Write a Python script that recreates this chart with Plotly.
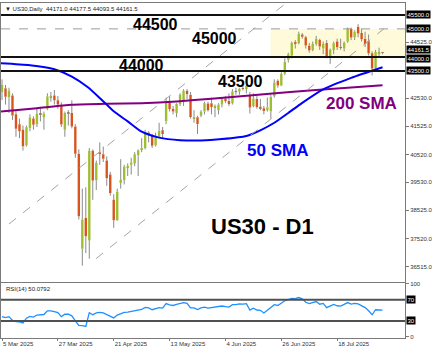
import pandas as pd
import plotly.graph_objects as go
from plotly.subplots import make_subplots

# Daily sessions 5 Mar - 6 Aug 2025 (no bar on Good Friday)
dates = pd.bdate_range("2025-03-05", "2025-08-06").drop(pd.Timestamp("2025-04-18"))

open_ = [
    42750, 42880, 42560, 42620, 41950, 41600, 41400, 40850, 41450, 41800, 41600, 42000, 41850,
    42150, 42560, 42620, 42450, 42280, 41400,
    42000, 42000, 41520, 40545, 37150, 38250, 37450, 40650, 39600, 40600, 40525, 40300, 39800,
    38900, 38170, 39500, 39600, 40050, 40150, 40200, 40500,
    40700, 40750, 41300, 41200, 40850, 41150, 41380, 41700, 42400, 42140, 42000, 42320, 42400,
    42790, 42650, 41800, 41850, 41900, 42050, 42340, 42350, 42200,
    42100, 42300, 42520, 42430, 42350, 42780, 42770, 42870, 42850, 42650, 42250, 42500, 42220,
    42170, 42100, 42050, 42600, 43150, 42980, 43400, 43900,
    44050, 44500, 44500, 44800, 44700, 44400, 44250, 44450, 44600, 44300, 44500, 44030, 44250,
    44550, 44350, 44300, 44550, 45000, 44700, 45080, 44850, 44650, 44560,
    44130, 43600, 44110, 44171.0,
]
high = [
    43200, 43000, 42900, 42700, 42100, 41800, 41550, 41550, 41950, 41880, 42150, 42200, 42050,
    42700, 42750, 42820, 42600, 42380, 42050,
    42100, 42450, 41600, 40700, 39300, 39350, 40750, 40700, 40300, 40950, 40800, 40450, 39900,
    39100, 39300, 40350, 40150, 40200, 40400, 40600, 40700,
    41100, 41400, 41350, 41250, 41300, 41650, 41500, 42550, 42600, 42250, 42350, 42700, 42850,
    42850, 42750, 42100, 41900, 42100, 42400, 42400, 42550, 42300,
    42350, 42550, 42600, 42700, 42850, 42900, 42900, 43100, 43000, 42750, 42700, 42600, 42500,
    42250, 42550, 42650, 43200, 43200, 43450, 43950, 44150,
    44550, 44600, 44900, 44850, 44750, 44500, 44550, 44750, 44650, 44550, 44600, 44300, 44550,
    44650, 44650, 44550, 45050, 45050, 44950, 45170, 45000, 44900, 44800,
    44200, 44250, 44330, 44177.5,
]
low = [
    42460, 42300, 42000, 41750, 41150, 41100, 40660, 40800, 41350, 41400, 41500, 41700, 41400,
    42100, 42400, 42300, 42150, 41500, 41150,
    41550, 41450, 40400, 38200, 36550, 37000, 36800, 38900, 39250, 40150, 40250, 39400, 39050,
    37900, 38150, 39300, 39450, 39750, 39800, 40100, 39750,
    40600, 40700, 40950, 40750, 40800, 41100, 41100, 41600, 42050, 41950, 41850, 42250, 42250,
    42500, 41800, 41650, 41250, 41850, 41950, 42050, 41950, 41850,
    41950, 42200, 42350, 42250, 42300, 42650, 42650, 42800, 42700, 41980, 42200, 42150, 42100,
    41950, 42050, 41800, 42550, 42900, 42950, 43350, 43800,
    43950, 44300, 44450, 44650, 44300, 44150, 44200, 44400, 44250, 44100, 43950, 43750, 44100,
    44250, 44250, 44200, 44500, 44600, 44600, 44700, 44550, 44350, 44050,
    43340, 43550, 44000, 44093.5,
]
close = [
    43006, 42579, 42801, 41911, 41433, 41350, 40813, 41488, 41841, 41581, 41964, 41953, 41985,
    42583, 42587, 42455, 42300, 41584, 42002,
    41989, 41520, 40545, 38315, 38200, 37600, 40650, 39594, 40213, 40525, 40369, 39669, 39142,
    38170, 39187, 39607, 40093, 40114, 40228, 40528, 40669,
    40752, 41317, 41219, 40829, 41114, 41368, 41249, 42410, 42140, 42051, 42323, 42655, 42792,
    42677, 41860, 41859, 41603, 42050, 42343, 42098, 42216, 42270,
    42305, 42520, 42427, 42319, 42763, 42762, 42867, 42865, 42968, 42198, 42515, 42215, 42172,
    42100, 42207, 42582, 43089, 42982, 43386, 43819, 44095,
    44495, 44484, 44828, 44720, 44406, 44241, 44458, 44650, 44371, 44460, 44023, 44254, 44484,
    44342, 44323, 44502, 45010, 44694, 44902, 44838, 44633, 44461, 44131,
    43589, 44174, 44171, 44161.5,
]

rsi14 = [
    38, 36, 38, 31, 28.5, 28, 26, 35, 38.5, 37, 41, 41, 42, 49, 49, 47.5, 45.5, 38, 42.5,
    42.5, 39.5, 30, 21.5, 21, 19.5, 45.5, 41.5, 45, 46, 45, 41.5, 39.5, 35.5, 41, 43, 46, 46.5,
    47.5, 49.5, 50.5,
    51.5, 55.5, 54.5, 51, 53, 55, 54, 62.5, 60, 59, 61, 63.5, 64.5, 63, 54.5, 54.5, 51.5, 54.5,
    56, 54, 55, 55.5,
    56, 58, 57, 56, 60.5, 60.5, 62, 61.5, 62.5, 50.5, 54, 50.5, 50, 45, 50, 55, 60.5, 59, 64,
    68, 70,
    72.5, 72, 74, 71.5, 65, 62.5, 65, 66.5, 61.5, 63, 55, 58.5, 61, 58.5, 58, 61, 64.5, 61.5,
    63, 62, 58, 55, 49,
    41.5, 51, 50.5, 50.0792,
]

# Moving averages: (bar position, price)
sma50_pos = [-0.3, 8, 15, 20, 24.6, 28.3, 32, 36, 40, 45, 51, 57, 63, 70, 74, 78, 82, 86, 92, 100, 109]
sma50_val = [43770, 43700, 43560, 43300, 42920, 42500, 42060, 41700, 41330, 41120, 41030, 41020,
             41070, 41180, 41380, 41650, 42000, 42360, 42840, 43250, 43630]
sma200_pos = [-0.3, 10, 20, 30, 40, 50, 60, 75, 90, 109]
sma200_val = [42050, 42170, 42290, 42330, 42350, 42410, 42510, 42670, 42820, 42990]

price_ticks = [44525, 42530, 41525, 40520, 39530, 38525, 37520, 36515]
solid_levels = [45500, 44000, 43500]
dashed_level = 45000
boxed_prices = [45500.0, 45000.0, 44161.5, 44000.0, 43500.0]
rsi_levels = [70, 30]
date_tick_pos = [0, 16, 32, 48, 64, 80, 96]

# Rising channel drawn as two parallel dashed trend lines: (bar position, price) pairs
channel_lines = [((2.0, 38037), (81.4, 45924)), ((26.9, 36799), (109.4, 45005))]
# Highlighted range between 44000 and 45000 from the late-June breakout onward
zone_start, zone_low, zone_high = 76.9, 44000, 45000

FONT = "Liberation Sans, Arial, sans-serif"
BULL, BEAR, WICK = "#9DBE2E", "#D8541C", "#8a8a8a"
n = len(close)
x = list(range(n))
X_MIN, X_MAX = -0.29, 115.43

fig = make_subplots(rows=2, cols=1, shared_xaxes=True)

# Wicks (above and below each body)
wx, wy = [], []
for i in x:
    top, bot = max(open_[i], close[i]), min(open_[i], close[i])
    wx += [i, i, None, i, i, None]
    wy += [high[i], top, None, bot, low[i], None]
fig.add_trace(go.Scatter(x=wx, y=wy, mode="lines", line=dict(color=WICK, width=1),
                         hoverinfo="skip"), row=1, col=1)

# Candle bodies
for up, color in ((True, BULL), (False, BEAR)):
    idx = [i for i in x if (close[i] >= open_[i]) == up]
    fig.add_trace(go.Bar(
        x=idx,
        base=[min(open_[i], close[i]) for i in idx],
        y=[max(abs(close[i] - open_[i]), 12) for i in idx],
        width=0.68, marker=dict(color=color, line=dict(width=0)),
    ), row=1, col=1)

fig.add_trace(go.Scatter(x=sma200_pos, y=sma200_val, mode="lines",
                         line=dict(color="#800080", width=2, shape="spline", smoothing=0.6)),
              row=1, col=1)
fig.add_trace(go.Scatter(x=sma50_pos, y=sma50_val, mode="lines",
                         line=dict(color="#0000FF", width=2, shape="spline", smoothing=0.6)),
              row=1, col=1)

fig.add_trace(go.Scatter(x=x, y=rsi14, mode="lines", line=dict(color="#1E90FF", width=1.3)),
              row=2, col=1)

shapes = [
    dict(type="rect", xref="x", yref="y", x0=zone_start, x1=X_MAX, y0=zone_low, y1=zone_high,
         fillcolor="#FFFBDA", line=dict(width=0), layer="below"),
    dict(type="line", xref="x domain", yref="y", x0=0, x1=1, y0=dashed_level, y1=dashed_level,
         line=dict(color="#9a9a9a", width=1, dash="dash")),
]
for (p0, p1) in channel_lines:
    shapes.append(dict(type="line", xref="x", yref="y", x0=p0[0], y0=p0[1], x1=p1[0], y1=p1[1],
                       line=dict(color="#a5a5a5", width=1, dash="dash")))
for lv in solid_levels:
    shapes.append(dict(type="line", xref="x domain", yref="y", x0=0, x1=1, y0=lv, y1=lv,
                       line=dict(color="#111111", width=2)))
for lv in rsi_levels:
    shapes.append(dict(type="line", xref="x2 domain", yref="y2", x0=0, x1=1, y0=lv, y1=lv,
                       line=dict(color="#505050", width=2)))

ann = []


def label(text, xpos, ypos, size, color="#000000"):
    ann.append(dict(text=f"<b>{text}</b>", x=xpos, y=ypos, xref="x", yref="y",
                    showarrow=False, font=dict(family=FONT, size=size, color=color)))


label("44500", 44.0, 45146, 16)
label("45000", 60.9, 44670, 16)
label("44000", 40.0, 43680, 16)
label("43500", 68.3, 43130, 16)
label("200 SMA", 102.9, 42350, 17, "#800080")
label("50 SMA", 78.9, 40654, 17, "#0000FF")
label("US30 - D1", 74.6, 37966, 22)

# Price boxes on the right scale; the live price box sits just above the 44000 box
box_shift = {44161.5: 3, 44000.0: -2}
for p in boxed_prices:
    ann.append(dict(text=f"{p:.1f}", x=1, xref="paper", xanchor="left", xshift=1,
                    y=p, yref="y", yanchor="middle", yshift=box_shift.get(p, 0),
                    showarrow=False, bgcolor="#000000",
                    borderpad=0.5, font=dict(family=FONT, size=6, color="#ffffff")))
for lv in rsi_levels:
    ann.append(dict(text=f"{lv}", x=1, xref="paper", xanchor="left", xshift=1,
                    y=lv, yref="y2", yanchor="middle", showarrow=False, bgcolor="#000000",
                    borderpad=0.5, font=dict(family=FONT, size=6, color="#ffffff")))

ann.append(dict(text="▼ US30,Daily  44171.0 44177.5 44093.5 44161.5", x=0.004, xref="x domain",
                y=0.979, yref="y domain", xanchor="left", yanchor="middle", showarrow=False,
                font=dict(family=FONT, size=6, color="#222222")))
ann.append(dict(text="RSI(14) 50.0792", x=0.007, xref="x2 domain",
                y=0.9, yref="y2 domain", xanchor="left", yanchor="middle", showarrow=False,
                font=dict(family=FONT, size=6, color="#222222")))

axis_line = dict(showline=True, linecolor="#7a7a7a", linewidth=1, mirror=True,
                 showgrid=False, zeroline=False)
tick_font = dict(family=FONT, size=6, color="#333333")

fig.update_layout(
    width=437, height=349,
    margin=dict(l=0, r=32, t=0, b=11),
    paper_bgcolor="white", plot_bgcolor="white",
    showlegend=False, barmode="overlay",
    shapes=shapes, annotations=ann,
    xaxis=dict(range=[X_MIN, X_MAX], showticklabels=False, ticks="", **axis_line),
    xaxis2=dict(range=[X_MIN, X_MAX], tickvals=date_tick_pos,
                ticktext=[f"{dates[i].day} {dates[i]:%b %Y}" for i in date_tick_pos],
                ticks="outside", ticklen=2, tickcolor="#7a7a7a",
                ticklabelposition="outside right", tickfont=tick_font, **axis_line),
    yaxis=dict(domain=[0.1657, 1], range=[35950, 45924], side="right",
               tickvals=price_ticks, ticktext=[f"{v:.1f}" for v in price_ticks],
               ticks="outside", ticklen=3, tickcolor="#7a7a7a", tickfont=tick_font, **axis_line),
    yaxis2=dict(domain=[0, 0.1627], range=[-2.3, 100.5], side="right",
                tickvals=[0, 100], ticktext=["0", "100"],
                ticks="outside", ticklen=3, tickcolor="#7a7a7a", tickfont=tick_font, **axis_line),
)

fig.write_html("out.html")
